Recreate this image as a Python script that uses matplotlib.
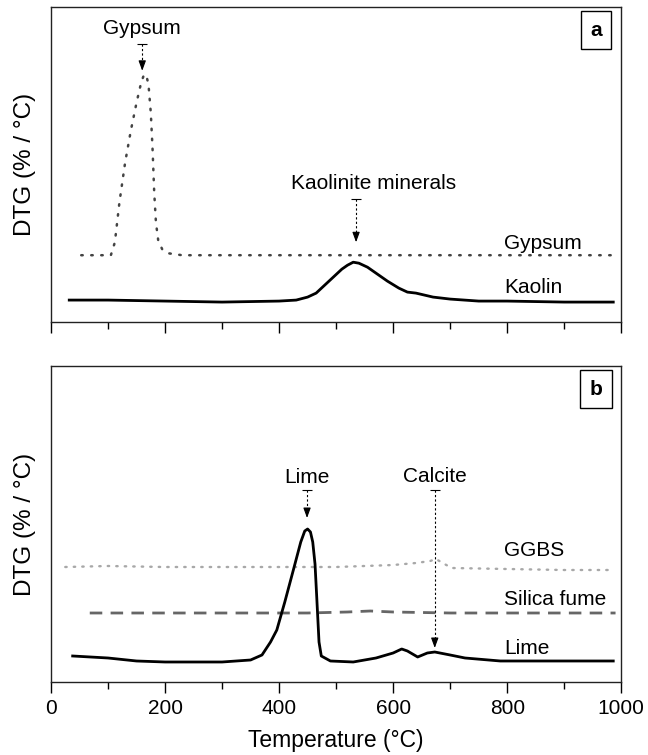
import matplotlib
matplotlib.use("Agg")
import matplotlib.pyplot as plt
from matplotlib.ticker import MultipleLocator, NullLocator

plt.rcParams['font.family'] = ['Liberation Sans', 'DejaVu Sans']

# panel a (DTG in arbitrary units)
kaolin_t = [32, 100, 200, 300, 400, 430, 450, 465, 480, 495, 510, 520, 530, 540,
            555, 570, 590, 610, 625, 640, 655, 670, 700, 750, 800, 900, 986]
kaolin_y = [22, 22, 21, 20, 21, 22, 25, 29, 37, 45, 53, 57, 60, 59,
            55, 49, 41, 34, 30, 29, 27, 25, 23, 21, 21, 20, 20]
gypsum_t = [53, 80, 105, 112, 120, 130, 140, 150, 158, 163, 167, 171, 175, 178,
            181, 184, 188, 195, 205, 230, 400, 600, 800, 986]
gypsum_y = [67, 67, 67, 80, 120, 160, 192, 220, 240, 248, 248, 238, 210, 175,
            130, 100, 82, 73, 69, 67, 67, 67, 67, 67]

# panel b
lime_t = [38, 100, 150, 200, 300, 350, 370, 385, 396, 410, 425, 438, 445, 450,
          455, 459, 463, 466, 470, 474, 490, 530, 570, 600, 615, 625, 643, 660,
          673, 700, 726, 788, 900, 986]
lime_y = [26, 24, 21, 20, 20, 22, 27, 40, 52, 80, 112, 140, 151, 153,
          150, 140, 118, 85, 40, 26, 21, 20, 24, 29, 33, 31, 25, 29,
          30, 27, 24, 21, 21, 21]
ggbs_t = [25, 100, 200, 300, 400, 500, 600, 640, 665, 675, 690, 703, 800, 900, 984]
ggbs_y = [115, 116, 115, 115, 115, 115, 117, 119, 121, 123, 118, 114, 113, 112, 112]
sf_t = [68, 150, 250, 350, 450, 520, 560, 600, 700, 800, 900, 990]
sf_y = [69, 69, 69, 69, 69, 70, 71, 70, 69, 69, 69, 69]

FS = 15


def peak_arrow(ax, x, y_top, y_tip, label, x_text=None, y_text=None):
    ax.plot([x, x], [y_top, y_tip + 6], ls=(0, (2, 2)), color='k', lw=0.8)
    ax.plot([x], [y_top], marker='_', ms=7, mew=0.8, color='k')
    ax.annotate('', xy=(x, y_tip), xytext=(x, y_tip + 8),
                arrowprops=dict(arrowstyle='-|>,head_length=0.6,head_width=0.22',
                                color='k', lw=0.8, shrinkA=0, shrinkB=0))
    ax.text(x if x_text is None else x_text, y_text, label, ha='center',
            va='center', fontsize=FS)


def style(ax, letter):
    ax.set_xlim(0, 1000)
    ax.set_ylim(0, 316)
    ax.xaxis.set_major_locator(MultipleLocator(200))
    ax.xaxis.set_minor_locator(MultipleLocator(100))
    ax.yaxis.set_major_locator(NullLocator())
    ax.tick_params(axis='x', which='major', direction='out', length=8, width=1,
                   labelsize=FS, pad=4)
    ax.tick_params(axis='x', which='minor', direction='out', length=5, width=1)
    for s in ax.spines.values():
        s.set_linewidth(1)
        s.set_color('#222222')
    ax.set_ylabel('DTG (% / °C)', fontsize=17.5, labelpad=11)
    ax.text(0.956, 0.927, letter, transform=ax.transAxes, ha='center', va='center',
            fontsize=15, fontweight='bold',
            bbox=dict(boxstyle='square,pad=0.45', fc='white', ec='k', lw=1))


fig = plt.figure(figsize=(6.48, 7.55), dpi=100)
ax1 = fig.add_axes([0.0787, 0.5735, 0.880, 0.4172])
ax2 = fig.add_axes([0.0787, 0.0967, 0.880, 0.4185])

# panel a
ax1.plot(gypsum_t, gypsum_y, ls=(0, (0.6, 3.4)), color='#444444', lw=1.8,
         dash_capstyle='round')
ax1.plot(kaolin_t, kaolin_y, '-', color='k', lw=2)
style(ax1, 'a')
ax1.tick_params(axis='x', labelbottom=False)
peak_arrow(ax1, 160, 279, 252, 'Gypsum', y_text=294)
peak_arrow(ax1, 535, 123, 80, 'Kaolinite minerals', x_text=565, y_text=139)
ax1.text(795, 79, 'Gypsum', ha='left', va='center', fontsize=FS)
ax1.text(795, 35, 'Kaolin', ha='left', va='center', fontsize=FS)

# panel b
ax2.plot(ggbs_t, ggbs_y, ls=(0, (0.6, 3.0)), color='#a8a8a8', lw=1.7,
         dash_capstyle='round')
ax2.plot(sf_t, sf_y, ls=(0, (4.5, 3)), color='#666666', lw=2)
ax2.plot(lime_t, lime_y, '-', color='k', lw=2)
style(ax2, 'b')
ax2.set_xlabel('Temperature (°C)', fontsize=16.5, labelpad=8)
peak_arrow(ax2, 449, 192, 164, 'Lime', y_text=205)
peak_arrow(ax2, 673, 192, 34, 'Calcite', y_text=206)
ax2.text(795, 132, 'GGBS', ha='left', va='center', fontsize=FS)
ax2.text(795, 82, 'Silica fume', ha='left', va='center', fontsize=FS)
ax2.text(795, 33, 'Lime', ha='left', va='center', fontsize=FS)

fig.savefig('out.png', dpi=100)
